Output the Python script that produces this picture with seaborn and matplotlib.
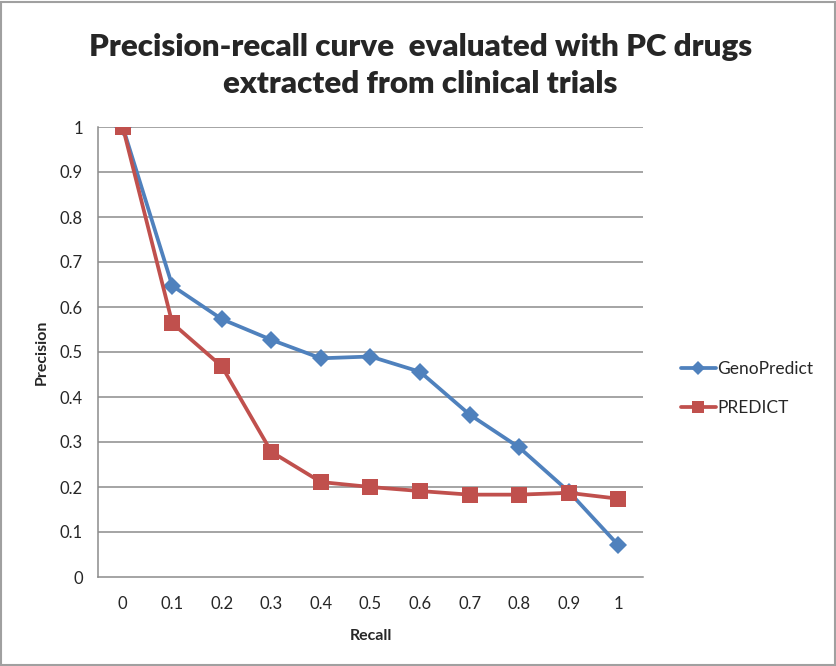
import matplotlib
matplotlib.use("Agg")
import matplotlib.pyplot as plt
from matplotlib.patches import Rectangle
from matplotlib.lines import Line2D
import seaborn as sns
import pandas as pd

recall = ["0", "0.1", "0.2", "0.3", "0.4", "0.5", "0.6", "0.7", "0.8", "0.9", "1"]
genopredict = [1.0, 0.647, 0.573, 0.527, 0.486, 0.490, 0.456, 0.361, 0.288, 0.190, 0.071]
predict = [1.0, 0.564, 0.468, 0.278, 0.211, 0.200, 0.191, 0.183, 0.183, 0.187, 0.174]
series = ["GenoPredict", "PREDICT"]
colors = ["#4F81BD", "#C0504D"]
yticks = [0, 0.1, 0.2, 0.3, 0.4, 0.5, 0.6, 0.7, 0.8, 0.9, 1]

df = pd.DataFrame({
    "Recall": recall * 2,
    "Precision": genopredict + predict,
    "Series": [series[0]] * len(recall) + [series[1]] * len(recall),
})

sns.set_style("white")
plt.rcParams["font.family"] = ["Lato", "DejaVu Sans"]

fig = plt.figure(figsize=(8.37, 6.66), dpi=100)
ax = fig.add_axes([98 / 837, 1 - 577 / 666, (643 - 98) / 837, (577 - 127) / 666])

grid_c = "#8C8C8C"
for yv in yticks[1:]:
    ax.axhline(yv, color=grid_c, lw=1.1, zorder=0)

sns.pointplot(data=df, x="Recall", y="Precision", hue="Series", order=recall,
              hue_order=series, palette=colors, markers=["D", "s"],
              linestyles=["-", "-"], errorbar=None, ax=ax, legend=False,
              linewidth=2.7)

for line, ms in zip(ax.lines[-2:], [9, 11.5]):
    line.set_markersize(ms)
    line.set_markeredgewidth(0)
ax.lines[-1].set_zorder(4)
ax.lines[-2].set_zorder(3)

ax.set_xlim(-0.5, len(recall) - 0.5)
ax.set_ylim(0, 1)
ax.set_yticks(yticks)
ax.set_yticklabels([f"{v:g}" for v in yticks], fontsize=12)
ax.set_xticks(range(len(recall)))
ax.set_xticklabels(recall, fontsize=12)
ax.set_xticks([i - 0.5 for i in range(len(recall) + 1)], minor=True)
ax.tick_params(axis="x", which="major", length=0, pad=14)
ax.tick_params(axis="x", which="minor", length=5, color=grid_c, width=1.1)
ax.tick_params(axis="y", which="major", length=5, color=grid_c, width=1.1, pad=6)

for s in ["top", "right"]:
    ax.spines[s].set_visible(False)
for s in ["left", "bottom"]:
    ax.spines[s].set_color(grid_c)
    ax.spines[s].set_linewidth(1.1)

ax.set_xlabel("Recall", fontsize=11.5, fontweight="bold", labelpad=12)
ax.set_ylabel("Precision", fontsize=11.5, fontweight="bold", labelpad=8)

fig.text(0.502, 1 - 47 / 666, "Precision-recall curve  evaluated with PC drugs",
         ha="center", va="center", fontsize=22.5, fontweight="heavy")
fig.text(0.502, 1 - 84 / 666, "extracted from clinical trials",
         ha="center", va="center", fontsize=22.5, fontweight="heavy")

handles = [Line2D([], [], color=colors[0], marker="D", lw=2.7, ms=7, mew=0),
           Line2D([], [], color=colors[1], marker="s", lw=2.7, ms=9, mew=0)]
leg = fig.legend(handles, series, loc="upper left",
                 bbox_to_anchor=(674 / 837, 1 - 354 / 666), frameon=False,
                 fontsize=12.5, handlelength=2.0, handletextpad=0.1,
                 labelspacing=1.35, borderaxespad=0)

fig.patches.append(Rectangle((1.5 / 837, 1.5 / 666), 1 - 3.5 / 837, 1 - 3.5 / 666,
                             transform=fig.transFigure, fill=False,
                             edgecolor="#A0A0A0", lw=1.5))

fig.savefig("out.png", dpi=100, facecolor="white")
